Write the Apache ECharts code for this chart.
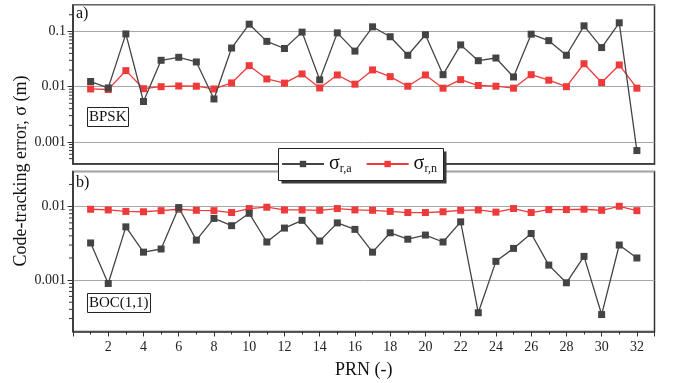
<!DOCTYPE html>
<html>
<head>
<meta charset="utf-8">
<script src="https://cdn.jsdelivr.net/npm/echarts@6/dist/echarts.min.js"></script>
<style>
  html, body { margin: 0; padding: 0; background: #fff; }
  #chart { width: 673px; height: 383px; }
</style>
</head>
<body>
<div id="chart"></div>
<script>
  // PRN numbers
  var prn = [1,2,3,4,5,6,7,8,9,10,11,12,13,14,15,16,17,18,19,20,21,22,23,24,25,26,27,28,29,30,31,32];
  // a) BPSK
  var bpskA = [0.0124,0.0095,0.09,0.0054,0.030,0.034,0.028,0.006,0.05,0.135,0.066,0.049,0.097,0.0133,0.094,0.044,
               0.121,0.080,0.037,0.087,0.0165,0.057,0.0295,0.033,0.015,0.089,0.068,0.037,0.126,0.051,0.143,0.0007];
  var bpskN = [0.0091,0.0089,0.0195,0.0092,0.0100,0.0103,0.0102,0.0091,0.0117,0.024,0.0138,0.0116,0.017,0.0095,0.0163,0.0111,
               0.0201,0.0152,0.0102,0.0163,0.0094,0.0134,0.0105,0.0102,0.0094,0.0165,0.0131,0.0100,0.026,0.0119,0.0247,0.0094];
  // b) BOC(1,1)
  var bocA = [0.0032,0.0009,0.0053,0.0024,0.00265,0.0097,0.0035,0.0069,0.0055,0.0081,0.0033,0.0051,0.0065,0.0034,0.006,0.0049,
              0.0024,0.0044,0.0036,0.0041,0.0033,0.0062,0.00036,0.0018,0.0027,0.0043,0.0016,0.00092,0.0021,0.00034,0.003,0.002];
  var bocN = [0.0092,0.009,0.0086,0.0085,0.0088,0.0092,0.0089,0.0088,0.0083,0.0094,0.0098,0.009,0.009,0.0089,0.0094,0.009,
              0.0089,0.0086,0.0083,0.0083,0.0085,0.0089,0.009,0.0084,0.0094,0.0083,0.0091,0.0091,0.0092,0.0089,0.0101,0.0088];

  // log axis minor ticks (2..9 in each decade)
  var minorMantissa = [2,3,4,5,6,7,8,9];
  var decades = [0.0001, 0.001, 0.01, 0.1];
  var rangeA = [0.0004, 0.3];
  var rangeB = [0.0002, 0.03];

  var font = '"Liberation Serif", "DejaVu Serif", serif';
  var dark = '#444444';
  var red = '#ee3a3a';

  function pairs(arr) {
    return prn.map(function (p, i) { return [p, arr[i]]; });
  }

  function minorTicks(range) {
    var out = [];
    decades.forEach(function (d) {
      minorMantissa.forEach(function (m) {
        var v = +(m * d).toPrecision(3);
        if (v > range[0] && v < range[1]) out.push([0, v]);
      });
    });
    return out;
  }

  function lineSeries(name, arr, color, idx) {
    return {
      name: name,
      type: 'line',
      xAxisIndex: idx,
      yAxisIndex: idx,
      data: pairs(arr),
      symbol: 'rect',
      symbolSize: 7,
      lineStyle: { color: color, width: 1.3 },
      itemStyle: { color: color },
      z: name === 'a' ? 3 : 2
    };
  }

  // small ticks left of the log axis
  function minorSeries(range, idx) {
    return {
      type: 'custom',
      xAxisIndex: idx,
      yAxisIndex: idx,
      silent: true,
      clip: false,
      z: 5,
      data: minorTicks(range),
      encode: { x: 0, y: 1 },
      renderItem: function (params, api) {
        var p = api.coord([0, api.value(1)]);
        return {
          type: 'rect',
          shape: { x: p[0] - 4, y: p[1] - 0.5, width: 4, height: 1 },
          style: { fill: '#333' }
        };
      }
    };
  }

  function xAxis(idx) {
    return {
      type: 'value',
      gridIndex: idx,
      min: 0,
      max: 33,
      interval: 2,
      axisLine: { show: true, lineStyle: { color: '#333', width: 1.5 } },
      axisTick: { show: idx === 1, length: 5, lineStyle: { color: '#333' } },
      minorTick: { show: idx === 1, splitNumber: 2, length: 3, lineStyle: { color: '#333' } },
      splitLine: { show: false },
      axisLabel: {
        show: idx === 1,
        showMaxLabel: false,
        margin: 9,
        color: '#222',
        fontFamily: font,
        fontSize: 14,
        formatter: function (v) { return v === 0 ? '' : v; }
      },
      name: idx === 1 ? 'PRN (-)' : '',
      nameLocation: 'middle',
      nameGap: 30,
      nameTextStyle: { fontFamily: font, fontSize: 18, color: '#111' }
    };
  }

  function yAxis(idx, range) {
    return {
      type: 'log',
      gridIndex: idx,
      min: range[0],
      max: range[1],
      logBase: 10,
      axisLine: { show: true, lineStyle: { color: '#333', width: 1.5 } },
      axisTick: { show: true, length: 5.5, lineStyle: { color: '#333' } },
      splitLine: { show: true, lineStyle: { color: '#a8a8a8', width: 1 } },
      axisLabel: {
        showMinLabel: false,
        showMaxLabel: false,
        margin: 7,
        color: '#222',
        fontFamily: font,
        fontSize: 14,
        formatter: function (v) { return String(v); }
      }
    };
  }

  var myChart = echarts.init(document.getElementById('chart'), null, { renderer: 'canvas' });

  var boxStyle = {
    borderColor: '#222',
    borderWidth: 1,
    backgroundColor: '#fff',
    padding: [3, 2, 2, 2],
    textStyle: { fontFamily: font, fontSize: 15, fontWeight: 'normal', color: '#111' }
  };

  var option = {
    backgroundColor: '#fff',
    animation: false,
    title: [
      { text: 'a)', left: 76, top: 6, padding: 0, textStyle: { fontFamily: font, fontSize: 16, fontWeight: 'normal', color: '#111' } },
      { text: 'b)', left: 76, top: 175, padding: 0, textStyle: { fontFamily: font, fontSize: 16, fontWeight: 'normal', color: '#111' } },
      Object.assign({ text: 'BPSK', left: 87, top: 107 }, boxStyle),
      Object.assign({ text: 'BOC(1,1)', left: 87, top: 293 }, boxStyle)
    ],
    legend: {
      data: ['a', 'n'],
      left: 279,
      top: 149,
      orient: 'horizontal',
      padding: [4, 2, 4, 2],
      itemWidth: 42,
      itemHeight: 8,
      itemGap: 14,
      z: 20,
      formatter: function (name) {
        return '{s|σ}{sub|r,' + name + '}';
      },
      textStyle: {
        fontFamily: font,
        color: '#111',
        rich: {
          s: { fontFamily: font, fontSize: 20, color: '#111', lineHeight: 22 },
          sub: { fontFamily: font, fontSize: 12, color: '#111', padding: [10, 0, 0, 0], lineHeight: 22 }
        }
      }
    },
    grid: [
      { left: 73, right: 18.5, top: 5, height: 159, show: true, borderColor: '#333', borderWidth: 1.5, backgroundColor: 'transparent' },
      { left: 73, right: 18.5, top: 171.5, height: 160, show: true, borderColor: '#333', borderWidth: 1.5, backgroundColor: 'transparent' }
    ],
    xAxis: [xAxis(0), xAxis(1)],
    yAxis: [yAxis(0, rangeA), yAxis(1, rangeB)],
    graphic: {
      elements: [
        {
          type: 'text',
          x: 21,
          y: 171,
          rotation: Math.PI / 2,
          style: {
            text: 'Code-tracking error, σ (m)',
            font: '18px ' + font,
            fill: '#111',
            align: 'center',
            verticalAlign: 'middle'
          }
        },
        // legend frame with drop shadow
        {
          type: 'group',
          x: 278.5,
          y: 148.5,
          z: 10,
          children: [
            { type: 'rect', z: 10, shape: { x: 3, y: 3, width: 165, height: 32 }, style: { fill: '#3a3a3a' } },
            { type: 'rect', z: 11, shape: { x: 0, y: 0, width: 165, height: 32 }, style: { fill: '#fff', stroke: '#222', lineWidth: 1 } }
          ]
        }
      ]
    },
    series: [
      lineSeries('a', bpskA, dark, 0),
      lineSeries('n', bpskN, red, 0),
      lineSeries('a', bocA, dark, 1),
      lineSeries('n', bocN, red, 1),
      minorSeries(rangeA, 0),
      minorSeries(rangeB, 1)
    ]
  };

  myChart.setOption(option);
</script>
</body>
</html>
